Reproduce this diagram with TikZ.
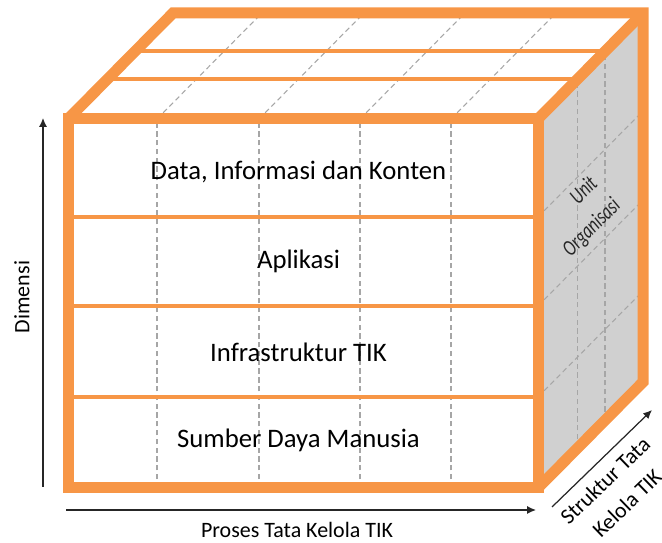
\documentclass[tikz,border=0pt]{standalone}
\usepackage{fontspec}
\setmainfont{Carlito}
\usepackage{xcolor}
\usetikzlibrary{arrows.meta}
\definecolor{tkorange}{HTML}{F79646}
\definecolor{tkgray}{HTML}{D0D0D0}
\definecolor{tkdash}{HTML}{A6A6A6}

\begin{document}
\begin{tikzpicture}[
  edge/.style={draw=tkorange, line width=0.22cm},
  sep/.style={draw=tkorange, line width=0.08cm},
  griddash/.style={draw=tkdash, line width=0.6pt, dash pattern=on 3pt off 2pt},
  layer/.style={font=\fontsize{15.2}{17}\selectfont},
  sidetext/.style={font=\fontsize{9.5}{10}\selectfont\itshape, text=black!85,
    rotate=45, yscale=1.35, transform shape},
  axis/.style={draw=black!85, line width=0.7pt, -{Latex[length=5pt,width=4.5pt]}},
  axlabel/.style={font=\fontsize{12.5}{18}\selectfont, align=center}]
  \useasboundingbox (0,0) rectangle (13.24,10.86);
  % right face
  \fill[tkgray] (10.76,1.10) -- (12.86,3.22) -- (12.86,10.60) -- (10.76,8.48) -- cycle;
  \draw[griddash] (11.55,1.90) -- (11.55,9.28);
  \draw[griddash] (12.10,2.45) -- (12.10,9.83);
  \draw[griddash] (10.76,6.52) -- (12.86,8.64);
  \draw[griddash] (10.76,4.74) -- (12.86,6.86);
  \draw[griddash] (10.76,2.92) -- (12.86,5.04);
  \node[sidetext] (unitA) at (11.66,7.06) {Unit};
  \node[sidetext] (unitB) at (11.84,6.30) {Organisasi};
  % top face
  \fill[white] (1.36,8.48) -- (3.46,10.60) -- (12.86,10.60) -- (10.76,8.48) -- cycle;
  \draw[griddash] (3.14,8.48) -- (5.24,10.60);
  \draw[griddash] (5.18,8.48) -- (7.28,10.60);
  \draw[griddash] (7.20,8.48) -- (9.30,10.60);
  \draw[griddash] (9.02,8.48) -- (11.12,10.60);
  \draw[sep] (2.15,9.28) -- (11.55,9.28);
  \draw[sep] (2.70,9.83) -- (12.10,9.83);
  % front face
  \fill[white] (1.36,1.10) rectangle (10.76,8.48);
  \draw[griddash] (3.14,1.10) -- (3.14,8.48);
  \draw[griddash] (5.18,1.10) -- (5.18,8.48);
  \draw[griddash] (7.20,1.10) -- (7.20,8.48);
  \draw[griddash] (9.02,1.10) -- (9.02,8.48);
  \draw[sep] (1.36,6.52) -- (10.76,6.52);
  \draw[sep] (1.36,4.74) -- (10.76,4.74);
  \draw[sep] (1.36,2.92) -- (10.76,2.92);
  % outline of the cube
  \draw[edge] (1.36,1.10) rectangle (10.76,8.48);
  \draw[edge] (1.36,8.48) -- (3.46,10.60) -- (12.86,10.60) -- (12.86,3.22) -- (10.76,1.10);
  \draw[edge] (10.76,8.48) -- (12.86,10.60);
  % layers
  \node[layer] (dataLayer) at (5.97,7.42) {Data, Informasi dan Konten};
  \node[layer] (appLayer) at (5.97,5.64) {Aplikasi};
  \node[layer] (infraLayer) at (5.97,3.82) {Infrastruktur TIK};
  \node[layer] (sdmLayer) at (5.97,2.06) {Sumber Daya Manusia};
  % axes
  \coordinate (dimLow) at (0.86,1.12);
  \coordinate (dimHigh) at (0.86,8.50);
  \draw[axis] (dimLow) -- (dimHigh);
  \node[axlabel, rotate=90] (dimLabel) at (0.44,4.92) {Dimensi};
  \coordinate (procLow) at (1.32,0.66);
  \coordinate (procHigh) at (10.72,0.66);
  \draw[axis] (procLow) -- (procHigh);
  \node[axlabel] (procLabel) at (5.94,0.26) {Proses Tata Kelola TIK};
  \coordinate (strLow) at (11.04,0.72);
  \coordinate (strHigh) at (13.04,2.66);
  \draw[axis] (strLow) -- (strHigh);
  \node[axlabel, rotate=44] (strLabel) at (12.32,1.02) {Struktur Tata\\Kelola TIK};
\end{tikzpicture}
\end{document}
